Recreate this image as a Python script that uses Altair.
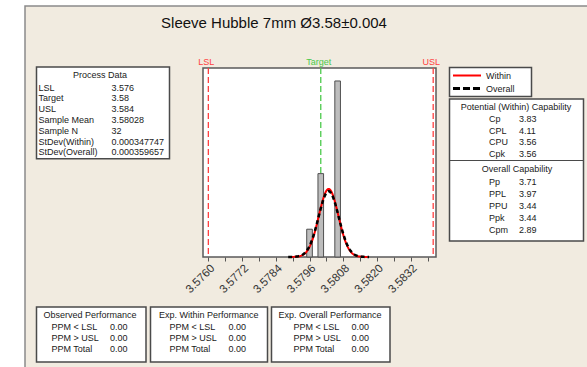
import altair as alt
import pandas as pd

# ---- process data ----
LSL = 3.576
TARGET = 3.58
USL = 3.584
SAMPLE_MEAN = 3.58028
SAMPLE_N = 32
SD_WITHIN = 0.000347747
SD_OVERALL = 0.000359657

process_labels = ["LSL", "Target", "USL", "Sample Mean", "Sample N", "StDev(Within)", "StDev(Overall)"]
process_values = [LSL, TARGET, USL, SAMPLE_MEAN, SAMPLE_N, SD_WITHIN, SD_OVERALL]

# ---- histogram ----
bin_centers = [3.5796, 3.5800, 3.5806]
bin_counts = [3, 9, 19]
BIN_WIDTH = 0.0002

# ---- capability ----
potential_labels = ["Cp", "CPL", "CPU", "Cpk"]
potential_values = ["3.83", "4.11", "3.56", "3.56"]
overall_labels = ["Pp", "PPL", "PPU", "Ppk", "Cpm"]
overall_values = ["3.71", "3.97", "3.44", "3.44", "2.89"]

# ---- performance ----
perf_titles = ["Observed Performance", "Exp. Within Performance", "Exp. Overall Performance"]
perf_labels = ["PPM < LSL", "PPM > USL", "PPM Total"]
perf_values = [["0.00", "0.00", "0.00"], ["0.00", "0.00", "0.00"], ["0.00", "0.00", "0.00"]]

# ---- axis ticks ----
tick_values = [3.5760, 3.5766, 3.5772, 3.5778, 3.5784, 3.5790, 3.5796,
               3.5802, 3.5808, 3.5814, 3.5820, 3.5826, 3.5832, 3.5838]
tick_labels = ["3.5760", "3.5772", "3.5784", "3.5796", "3.5808", "3.5820", "3.5832"]

TITLE = "Sleeve Hubble 7mm Ø3.58±0.004"

# ---- layout (page pixels) ----
PAGE_W, PAGE_H = 587, 367
LEFT, TOP = 203, 68
W, H = 233, 189
FONT = "Liberation Sans"
BEIGE = "#f1ebe0"
BOX_STROKE = "#4a4a4a"

x_scale = alt.Scale(domain=[3.57581, 3.58410], nice=False, zero=False)
y_scale = alt.Scale(domain=[0, 20.4], nice=False, zero=True)
label_test = "[" + ",".join(f"'{t}'" for t in tick_labels) + "]"
x_axis = alt.Axis(
    values=tick_values,
    labelExpr=f"indexof({label_test}, format(datum.value, '.4f')) >= 0 ? format(datum.value, '.4f') : ''",
    labelAngle=315, labelAlign="right", labelBaseline="top", labelPadding=1,
    labelFont=FONT, labelFontSize=11.5, labelColor="#333333",
    labelOverlap=False, labelFlush=False,
    tickSize=4, tickColor="#555555", domain=False, grid=False, title=None, zindex=1,
)

one = pd.DataFrame({"k": [0]})


def px(x):
    return alt.value(x - LEFT)


def py(y):
    return alt.value(y - TOP)


def box(x1, y1, x2, y2, fill="white", stroke=BOX_STROKE, sw=1.5):
    return alt.Chart(one).mark_rect(fill=fill, stroke=stroke, strokeWidth=sw).encode(
        x=px(x1), x2=px(x2), y=py(y1), y2=py(y2))


def hline(x1, x2, y, color=BOX_STROKE, sw=1, dash=None):
    kw = dict(color=color, strokeWidth=sw)
    if dash:
        kw["strokeDash"] = dash
    return alt.Chart(one).mark_rule(**kw).encode(x=px(x1), x2=px(x2), y=py(y))


def label(text, x, y, align="left", size=9, color="#1a1a1a"):
    return alt.Chart(one).mark_text(
        text=text, align=align, baseline="middle", font=FONT, fontSize=size, color=color
    ).encode(x=px(x), y=py(y))


layers = []

# frame and plot area
layers.append(box(25, 6, 620, 400, fill=BEIGE, stroke="#8a8a8a", sw=1.5))
layers.append(box(LEFT, TOP, LEFT + W, TOP + H, fill="white", stroke="#5a5a5a", sw=1.5))

# specification lines
spec_df = pd.DataFrame({"name": ["LSL", "Target", "USL"], "value": [LSL, TARGET, USL]})
spec_color = alt.Color("name:N", scale=alt.Scale(domain=["LSL", "Target", "USL"],
                                                 range=["#ff4040", "#4cc94c", "#ff4040"]), legend=None)
layers.append(alt.Chart(spec_df).mark_rule(strokeDash=[6, 3], strokeWidth=1.3).encode(
    x=alt.X("value:Q", scale=x_scale, axis=x_axis), y=alt.value(0), y2=alt.value(H), color=spec_color))
layers.append(alt.Chart(spec_df).mark_text(font=FONT, fontSize=9, baseline="middle", dx=-2).encode(
    x=alt.X("value:Q", scale=x_scale, axis=x_axis), y=py(61.5), text="name:N", color=spec_color))

# histogram
hist_df = pd.DataFrame({"center": bin_centers, "count": bin_counts})
layers.append(alt.Chart(hist_df).transform_calculate(
    lo=f"datum.center - {BIN_WIDTH / 2}", hi=f"datum.center + {BIN_WIDTH / 2}"
).mark_rect(fill="#bdbdbd", stroke="#505050", strokeWidth=1).encode(
    x=alt.X("lo:Q", scale=x_scale, axis=x_axis), x2="hi:Q",
    y=alt.Y("count:Q", scale=y_scale, axis=None), y2=alt.datum(0)))


# fitted normal curves
def normal_curve(sd, color, width, dash=None):
    kw = dict(color=color, strokeWidth=width)
    if dash:
        kw["strokeDash"] = dash
    return alt.Chart(alt.sequence(0, 161, as_="i")).transform_calculate(
        x=f"{SAMPLE_MEAN} + {sd} * (datum.i / 20 - 4)"
    ).transform_calculate(
        y=f"{SAMPLE_N} * {BIN_WIDTH} * densityNormal(datum.x, {SAMPLE_MEAN}, {sd})"
    ).mark_line(**kw).encode(
        x=alt.X("x:Q", scale=x_scale, axis=x_axis),
        y=alt.Y("y:Q", scale=y_scale, axis=None), order="i:Q")


layers.append(normal_curve(SD_WITHIN, "#ff0000", 2))
layers.append(normal_curve(SD_OVERALL, "#000000", 2.5, [4, 3]))

# title
layers.append(label(TITLE, 274, 23, align="center", size=15, color="#111111"))

# process data table
ROW = 10.8
pd_top, pd_first = 67, 87.5
pd_bottom = pd_first + ROW * (len(process_labels) - 1) + 6.5
layers.append(box(36.5, pd_top, 169.5, pd_bottom))
layers.append(label("Process Data", 100, 74.5, align="center"))
for i, (name, val) in enumerate(zip(process_labels, process_values)):
    y = pd_first + ROW * i
    layers.append(label(name, 38.5, y))
    layers.append(label(str(val), 111.5, y))

# legend
layers.append(box(449.5, 67.5, 531.5, 96.5))
layers.append(hline(453, 481, 75.5, color="#ff0000", sw=2))
layers.append(label("Within", 486, 75.5))
layers.append(hline(453, 481, 88.5, color="#000000", sw=3, dash=[7, 3]))
layers.append(label("Overall", 486, 88.5))

# capability table
layers.append(box(449.5, 99, 583.5, 241))
layers.append(hline(449.5, 583.5, 160.5))
layers.append(label("Potential (Within) Capability", 516, 106.5, align="center"))
for i, (name, val) in enumerate(zip(potential_labels, potential_values)):
    y = 119 + 11.7 * i
    layers.append(label(name, 489, y))
    layers.append(label(val, 519, y))
layers.append(label("Overall Capability", 517, 169, align="center"))
for i, (name, val) in enumerate(zip(overall_labels, overall_values)):
    y = 181.5 + 12.1 * i
    layers.append(label(name, 489, y))
    layers.append(label(val, 519, y))

# performance tables
perf_boxes = [(36.5, 146), (150.5, 267.5), (271.5, 390)]
perf_text_x = [(43.5, 51.5, 110), (159, 169.5, 228.5), (278.5, 293.5, 351.5)]
for (x1, x2), (tx, lx, vx), title, vals in zip(perf_boxes, perf_text_x, perf_titles, perf_values):
    layers.append(box(x1, 307, x2, 362))
    layers.append(label(title, tx, 314.5))
    for j, (name, val) in enumerate(zip(perf_labels, vals)):
        y = 327.3 + 11 * j
        layers.append(label(name, lx, y))
        layers.append(label(val, vx, y))

chart = alt.layer(*layers).properties(
    width=W, height=H,
    padding={"left": LEFT, "top": TOP, "right": PAGE_W - LEFT - W, "bottom": PAGE_H - TOP - H},
    autosize=alt.AutoSizeParams(type="none"),
).configure(background="white").configure_view(strokeWidth=0)

chart.save("out.html", embed_options={"renderer": "svg", "actions": False})
